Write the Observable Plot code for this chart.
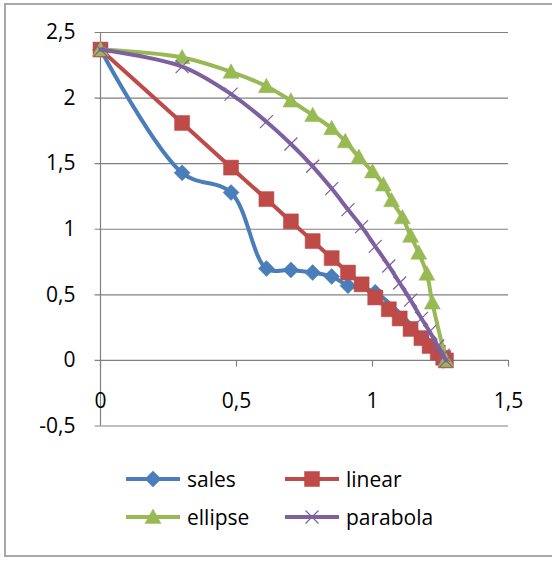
<!DOCTYPE html>
<html>
<head>
<meta charset="utf-8">
<script src="https://cdn.jsdelivr.net/npm/d3@7"></script>
<script src="https://cdn.jsdelivr.net/npm/@observablehq/plot@0.6"></script>
<style>
  html, body { margin: 0; padding: 0; background: #fff; overflow: hidden; }
  body { width: 552px; height: 563px; position: relative; font-family: "Open Sans", sans-serif; }
  #frame { position: absolute; left: 4px; top: 3px; width: 600px; height: 554px; border: 2px solid #a8a8a8; box-sizing: border-box; }
  #chart { position: absolute; left: 0; top: 0; }
  .entry { position: absolute; height: 24px; display: flex; align-items: center; font-size: 21px; color: #000; }
  .entry svg { margin-right: 7px; }
</style>
</head>
<body>
<div id="frame"></div>
<div id="chart"></div>
<div id="legend"></div>
<script>
// Quantity values (x) shared by the linear and parabola curves
const quantity = [0, 0.30, 0.48, 0.61, 0.70, 0.78, 0.85, 0.91, 0.96, 1.01, 1.06, 1.10, 1.14, 1.18, 1.21, 1.24, 1.26, 1.27];
const linear   = [2.37, 1.81, 1.47, 1.23, 1.06, 0.91, 0.78, 0.67, 0.58, 0.48, 0.39, 0.32, 0.24, 0.17, 0.11, 0.06, 0.02, 0];
const parabola = [2.37, 2.24, 2.03, 1.82, 1.65, 1.48, 1.31, 1.15, 1.02, 0.87, 0.72, 0.59, 0.46, 0.32, 0.22, 0.11, 0.04, 0];

// Observed sales
const salesQuantity = [0, 0.30, 0.48, 0.61, 0.70, 0.78, 0.85, 0.91, 1.01, 1.26];
const sales         = [2.37, 1.43, 1.28, 0.70, 0.69, 0.67, 0.64, 0.57, 0.52, 0];

// Elliptical fit
const ellipseQuantity = [0, 0.30, 0.48, 0.61, 0.70, 0.78, 0.85, 0.90, 0.95, 1.00, 1.04, 1.07, 1.11, 1.14, 1.17, 1.20, 1.22, 1.27];
const ellipse         = [2.37, 2.31, 2.20, 2.09, 1.98, 1.87, 1.77, 1.67, 1.55, 1.44, 1.34, 1.22, 1.09, 0.95, 0.82, 0.66, 0.44, 0];

const seriesNames = ["sales", "linear", "ellipse", "parabola"];
const xTicks = [0, 0.5, 1, 1.5];
const yTicks = [-0.5, 0, 0.5, 1, 1.5, 2, 2.5];
const fmt = d => String(d).replace(".", ",");

const colors = { sales: "#4a7ebb", linear: "#be4b48", ellipse: "#98b954", parabola: "#7d60a0" };

// Marker shapes
const diamond = { draw(c, size) { const r = Math.sqrt(size / Math.PI); c.moveTo(0, -r); c.lineTo(r, 0); c.lineTo(0, r); c.lineTo(-r, 0); c.closePath(); } };
const square = { draw(c, size) { const r = Math.sqrt(size / Math.PI); c.rect(-r, -r, 2 * r, 2 * r); } };
const triangle = { draw(c, size) { const r = Math.sqrt(size / Math.PI); c.moveTo(0, -r); c.lineTo(r, r * 0.8); c.lineTo(-r, r * 0.8); c.closePath(); } };
const cross = { draw(c, size) { const r = Math.sqrt(size / Math.PI); c.moveTo(-r, -r); c.lineTo(r, r); c.moveTo(r, -r); c.lineTo(-r, r); } };

const series = {
  sales:    { xs: salesQuantity,   values: sales,    symbol: diamond,  r: 8,   filled: true },
  linear:   { xs: quantity,        values: linear,   symbol: square,   r: 7.5, filled: true },
  ellipse:  { xs: ellipseQuantity, values: ellipse,  symbol: triangle, r: 8,   filled: true },
  parabola: { xs: quantity,        values: parabola, symbol: cross,    r: 6.5, filled: false }
};

const rows = name => series[name].xs.map((x, i) => ({ x, y: series[name].values[i] }));

const seriesMarks = seriesNames.flatMap(name => {
  const s = series[name], color = colors[name], data = rows(name);
  return [
    Plot.line(data, { x: "x", y: "y", stroke: color, strokeWidth: 4, curve: "catmull-rom" }),
    Plot.dot(data, {
      x: "x", y: "y", symbol: s.symbol, r: s.r,
      fill: s.filled ? color : "none", stroke: color, strokeWidth: s.filled ? 0.5 : 1.2
    })
  ];
});

const chart = Plot.plot({
  width: 552,
  height: 440,
  marginLeft: 100,
  marginRight: 44,
  marginTop: 32,
  marginBottom: 14.5,
  x: { domain: [0, 1.5], axis: null },
  y: { domain: [-0.5, 2.5], axis: null },
  style: { fontFamily: "Open Sans, sans-serif", fontSize: "21px", color: "#000", background: "transparent" },
  marks: [
    // horizontal gridlines, each with a short tick left of the value axis
    Plot.ruleY(yTicks, { x1: -0.02, x2: 1.5, stroke: "#808080", strokeWidth: 1.2, strokeOpacity: 1 }),
    // value axis
    Plot.ruleX([0], { y1: -0.5, y2: 2.5, stroke: "#808080", strokeWidth: 1.2, strokeOpacity: 1 }),
    // quantity axis tick marks on the zero line
    Plot.ruleX(xTicks, { y1: 0, y2: -0.05, stroke: "#808080", strokeWidth: 1.2, strokeOpacity: 1 }),
    Plot.text(yTicks, { x: 0, y: d => d, text: fmt, textAnchor: "end", dx: -25, fill: "#000" }),
    Plot.text(xTicks, { x: d => d, y: 0, text: fmt, dy: 41, fill: "#000" }),
    ...seriesMarks
  ]
});
document.getElementById("chart").append(chart);

// Legend: line-with-marker swatch followed by the series name
const legendPos = {
  sales:    { left: 126, top: 467 },
  linear:   { left: 285, top: 467 },
  ellipse:  { left: 126, top: 505 },
  parabola: { left: 285, top: 505 }
};
const legend = document.getElementById("legend");
for (const name of seriesNames) {
  const s = series[name], color = colors[name];
  const entry = document.createElement("div");
  entry.className = "entry";
  entry.style.left = legendPos[name].left + "px";
  entry.style.top = legendPos[name].top + "px";
  const svg = d3.create("svg").attr("width", 54).attr("height", 20);
  svg.append("line").attr("x1", 0).attr("x2", 54).attr("y1", 10).attr("y2", 10)
    .attr("stroke", color).attr("stroke-width", 4);
  const p = d3.path();
  s.symbol.draw(p, Math.PI * s.r * s.r);
  svg.append("path").attr("d", p.toString()).attr("transform", "translate(27,10)")
    .attr("fill", s.filled ? color : "none").attr("stroke", color).attr("stroke-width", s.filled ? 0.5 : 1.2);
  entry.append(svg.node());
  const label = document.createElement("span");
  label.textContent = name;
  entry.append(label);
  legend.append(entry);
}
</script>
</body>
</html>
